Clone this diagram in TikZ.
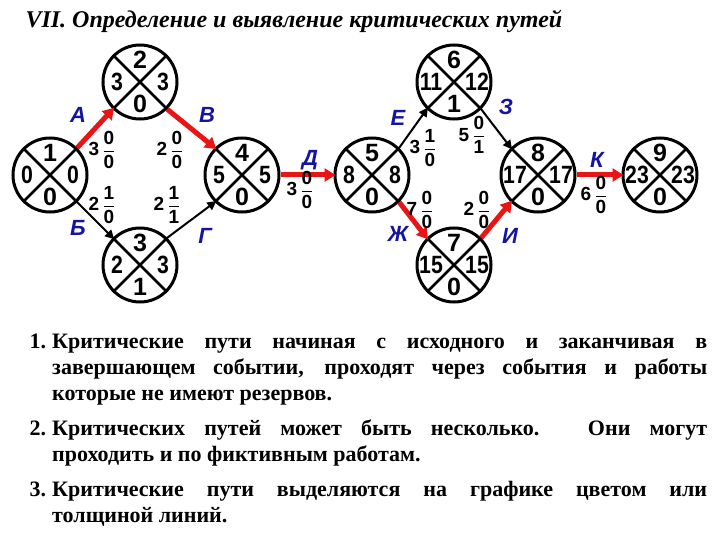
\documentclass[tikz,border=0pt]{standalone}
\usepackage{amsmath}
\usepackage{fontspec}
\setmainfont{Liberation Serif}
\newfontfamily\lab{Liberation Sans}
\usetikzlibrary{arrows.meta,calc}
\definecolor{crit}{RGB}{235,20,20}
\definecolor{lblue}{RGB}{20,20,160}
\newcommand{\fr}[2]{$\genfrac{}{}{1.2pt}{0}{\hbox{#1}}{\hbox{#2}}$}
\newcommand{\ev}[6]{%
 \node[ev] (#1) at (#2) {};
 \draw[thick2] (#1.45) -- (#1.225) (#1.135) -- (#1.315);
 \node[num] at ($(#1)+(0,-22)$) {#3};
 \node[num,xscale=0.85] at ($(#1)+(-23,0)$) {#4};
 \node[num,xscale=0.85] at ($(#1)+(23,0)$) {#5};
 \node[num] at ($(#1)+(0,22)$) {#6};}
\begin{document}
\begin{tikzpicture}[x=1pt,y=-1pt,
 ev/.style={circle,draw,line width=3pt,minimum size=74pt,inner sep=0pt},
 thick2/.style={line width=2.5pt},
 num/.style={font=\lab\bfseries\fontsize{25}{25}\selectfont,inner sep=0pt},
 dur/.style={font=\lab\bfseries\fontsize{19}{19}\selectfont,inner sep=0pt},
 let/.style={font=\lab\bfseries\itshape\fontsize{22}{22}\selectfont,text=lblue,inner sep=0pt},
 cr/.style={draw=crit,line width=5pt,-{Triangle[length=11pt,width=13pt]},shorten >=-2pt},
 nc/.style={draw=black,line width=2pt,-{Triangle[length=9pt,width=9pt]},shorten >=-2pt}]
\useasboundingbox (0,0) rectangle (720,540);
\node[anchor=west,font=\bfseries\itshape\fontsize{24}{24}\selectfont] (title) at (22,21) {VII. Определение и выявление критических путей};
\ev{n1}{50,175}{1}{0}{0}{0}
\ev{n2}{140,82}{2}{3}{3}{0}
\ev{n3}{140,265}{3}{2}{3}{1}
\ev{n4}{242,175}{4}{5}{5}{0}
\ev{n5}{372,175}{5}{8}{8}{0}
\ev{n6}{454,82}{6}{11}{12}{1}
\ev{n7}{454,265}{7}{15}{15}{0}
\ev{n8}{538,175}{8}{17}{17}{0}
\ev{n9}{660,175}{9}{23}{23}{0}
\draw[cr] (n1.45) -- (n2.225);
\draw[cr] (n2.315) -- (n4.135);
\draw[nc] (n1.315) -- (n3.135);
\draw[nc] (n3.45) -- (n4.225);
\draw[cr] (n4.east) -- (n5.west);
\draw[nc] (n5.45) -- (n6.225);
\draw[nc] (n6.315) -- (n8.135);
\draw[cr] (n5.315) -- (n7.135);
\draw[cr] (n7.45) -- (n8.225);
\draw[cr] (n8.east) -- (n9.west);
\node[let] (lA) at (78,115) {А};
\node[let] (lB) at (207,115) {В};
\node[let] (lBb) at (78,228) {Б};
\node[let] (lG) at (205,236) {Г};
\node[let] (lD) at (310,160) {Д};
\node[let] (lE) at (398,118) {Е};
\node[let] (lZ) at (506,107) {З};
\node[let] (lZh) at (398,234) {Ж};
\node[let] (lI) at (510,236) {И};
\node[let] (lK) at (597,160) {К};
\node[dur] (d1) at (102,150) {3\,\fr{0}{0}};
\node[dur] (d2) at (170,150) {2\,\fr{0}{0}};
\node[dur] (d3) at (102,205) {2\,\fr{1}{0}};
\node[dur] (d4) at (167,205) {2\,\fr{1}{1}};
\node[dur] (d5) at (300,190) {3\,\fr{0}{0}};
\node[dur] (d6) at (423,148) {3\,\fr{1}{0}};
\node[dur] (d7) at (472,135) {5\,\fr{0}{1}};
\node[dur] (d8) at (420,210) {7\,\fr{0}{0}};
\node[dur] (d9) at (477,210) {2\,\fr{0}{0}};
\node[dur] (d10) at (594,195) {6\,\fr{0}{0}};
\node[anchor=north west,text width=685pt,align=justify,inner sep=0pt,
 font=\bfseries\fontsize{22}{26}\selectfont] (txt) at (22,322) {%
\begin{list}{}{\leftmargin=30pt\labelwidth=24pt\labelsep=6pt\itemsep=9pt\parsep=0pt\topsep=0pt}
\item[1.] Критические пути начиная с исходного и заканчивая в завершающем событии, проходят через события и работы которые не имеют резервов.
\item[2.] Критических путей может быть несколько. Они могут\linebreak проходить и по фиктивным работам.
\item[3.] Критические пути выделяются на графике цветом или\linebreak толщиной линий.
\end{list}};
\end{tikzpicture}
\end{document}
